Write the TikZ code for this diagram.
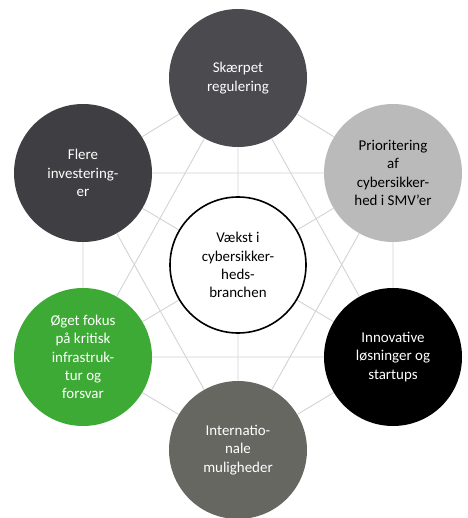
\documentclass[tikz,border=0pt]{standalone}
\usepackage{fontspec}
\setmainfont{Carlito}
\usepackage{xcolor}
\usepackage{tikz}
\usetikzlibrary{backgrounds}

\definecolor{skaerpet}{HTML}{4A4A4F}
\definecolor{flere}{HTML}{3F3F43}
\definecolor{prior}{HTML}{BABABA}
\definecolor{groen}{HTML}{3DAA35}
\definecolor{inter}{HTML}{676762}
\definecolor{linjegraa}{HTML}{D3D3D3}

\begin{document}
\begin{tikzpicture}[x=1bp, y=-1bp,
        cirkel/.style={circle, minimum size=138bp, inner sep=0pt, align=center, font=\fontsize{15}{18.3}\selectfont},
        linje/.style={draw=linjegraa, line width=0.9bp}]
        %RAMME
        \useasboundingbox (0,0) rectangle (468,518);

        %CIRKLER
        \node[cirkel, fill=skaerpet, text=white] (S) at (238,78) {Skærpet\\regulering};
        \node[cirkel, fill=flere, text=white] (F) at (83,173) {Flere\\investering-\\er};
        \node[cirkel, fill=prior, text=black] (P) at (393,173) {Prioritering\\af\\cybersikker-\\hed i SMV’er};
        \node[cirkel, fill=black, text=white] (I) at (393,357) {Innovative\\løsninger og\\startups};
        \node[cirkel, fill=groen, text=white] (O) at (83,357) {Øget fokus\\på kritisk\\infrastruk-\\tur og\\forsvar};
        \node[cirkel, fill=inter, text=white] (N) at (238,450) {Internatio-\\nale\\muligheder};
        \node[cirkel, fill=white, draw=black, line width=1.6bp, minimum size=136bp] (V) at (238,265) {Vækst i\\cybersikker-\\heds-\\branchen};

        %LINJER
        \begin{scope}[on background layer]
        % sekskant
        \draw[linje] (S) -- (P) (P) -- (I) (I) -- (N) (N) -- (O) (O) -- (F) (F) -- (S);
        % trekanter
        \draw[linje] (S) -- (O) (O) -- (I) (I) -- (S);
        \draw[linje] (F) -- (P) (P) -- (N) (N) -- (F);
        % eger til midten
        \draw[linje] (S) -- (V) (P) -- (V) (I) -- (V) (N) -- (V) (O) -- (V) (F) -- (V);
        \end{scope}
    \end{tikzpicture}
\end{document}
